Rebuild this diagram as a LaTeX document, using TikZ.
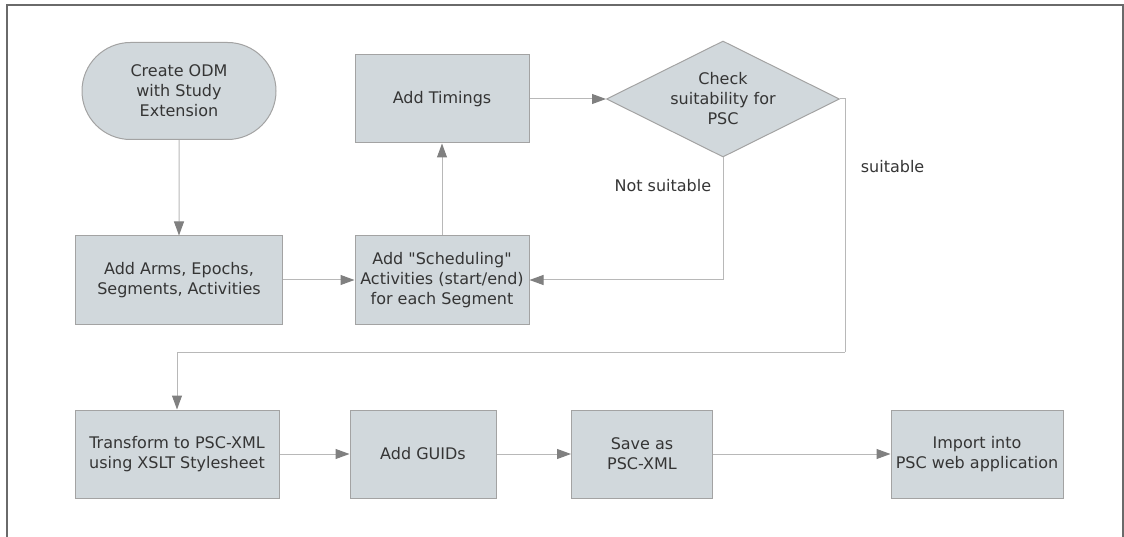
\documentclass[tikz,border=0pt]{standalone}
\usepackage{fontspec}
\setmainfont{DejaVu Sans}
\usepackage{tikz}
\usetikzlibrary{positioning}
\usetikzlibrary{shapes.geometric,shapes.misc,arrows.meta}
\definecolor{boxfill}{HTML}{D1D8DC}
\definecolor{boxline}{HTML}{A3A3A3}
\definecolor{wire}{HTML}{B8B8B8}
\definecolor{tipgray}{HTML}{808080}
\definecolor{ink}{HTML}{353535}
\definecolor{frame}{HTML}{6A6A6A}

\begin{document}
\begin{tikzpicture}[x=1pt, y=-1pt, ->, >={Triangle[length=14pt,width=10pt,color=tipgray]},
  wire, line width=1pt, font=\fontsize{16}{20}\selectfont, text=ink]
\tikzstyle{every node}=[align=center]
\tikzstyle{task}=[draw=boxline, fill=boxfill, line width=1pt, minimum height=88pt, inner sep=0pt]
\tikzstyle{term}=[rounded rectangle, draw=boxline, fill=boxfill, line width=1pt, minimum width=194pt, minimum height=97pt, inner sep=0pt]
\tikzstyle{check}=[diamond, aspect=2, draw=boxline, fill=boxfill, line width=1pt, minimum width=233pt, minimum height=116pt, inner sep=0pt]
\useasboundingbox (0,0) rectangle (1124,537);
\draw[-, frame, line width=1.2pt] (7,537) -- (7,5) -- (1123,5) -- (1123,537);

\node[term]   (odm) at (179,91) {Create ODM\\with Study\\Extension};
\node[task, minimum width=207pt] (arms)[below of = odm, node distance=189pt] {Add Arms, Epochs,\\Segments, Activities};
\node[task, minimum width=174pt] (sched)[right of = arms, node distance=263pt] {Add \textquotedbl Scheduling\textquotedbl\\Activities (start/end)\\for each Segment};
\node[task, minimum width=174pt] (timing)[above of = sched, node distance=181pt] {Add Timings};
\node[check]  (psc)[right of = timing, node distance=281pt] {Check\\suitability for\\PSC};
\node[task, minimum width=204pt] (xslt) at (177,454) {Transform to PSC-XML\\using XSLT Stylesheet};
\node[task, minimum width=146pt] (guid)[right of = xslt, node distance=246pt] {Add GUIDs};
\node[task, minimum width=141pt] (save)[right of = guid, node distance=219pt] {Save as\\PSC-XML};
\node[task, minimum width=172pt] (import)[right of = save, node distance=335pt] {Import into\\PSC web application};
\coordinate (turn) at (845,352);

\draw (odm) -- (arms);
\draw (arms) -- (sched);
\draw (sched) -- (timing);
\draw (timing) -- (psc);
\draw (psc.south) |- node[pos=0.115, left=8pt, text=ink]{Not suitable} (sched.east);
\draw[-] (psc.east) -| node[pos=0.634, right=12pt, text=ink]{suitable} (turn);
\draw (turn) -| (xslt.north);
\draw (xslt) -- (guid);
\draw (guid) -- (save);
\draw (save) -- (import);
\end{tikzpicture}
\end{document}
